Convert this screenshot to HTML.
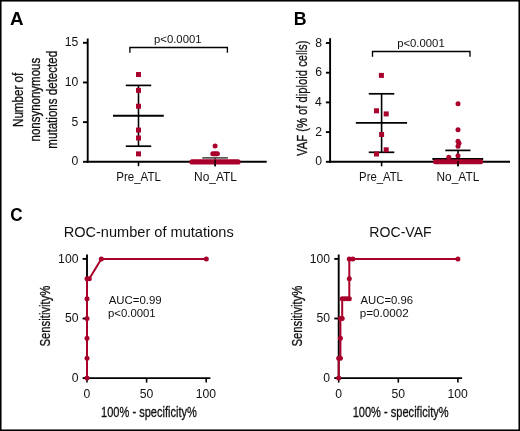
<!DOCTYPE html>
<html><head><meta charset="utf-8"><title>Figure</title>
<style>
html,body{margin:0;padding:0;background:#fff;}
body{width:520px;height:431px;overflow:hidden;font-family:"Liberation Sans",sans-serif;}
svg{display:block;will-change:transform;}
</style></head><body>
<svg width="520" height="431" viewBox="0 0 520 431" font-family="Liberation Sans, sans-serif">
<rect x="0" y="0" width="520" height="431" fill="#fff"/>
<line x1="87.70" y1="38.50" x2="87.70" y2="162.75" stroke="#000" stroke-width="1.9"/>
<line x1="86.75" y1="161.80" x2="266.70" y2="161.80" stroke="#000" stroke-width="1.9"/>
<line x1="83.00" y1="161.80" x2="87.70" y2="161.80" stroke="#000" stroke-width="1.9"/>
<text x="71.56" y="165.40" font-size="12.2" fill="#111">0</text>
<line x1="83.00" y1="122.14" x2="87.70" y2="122.14" stroke="#000" stroke-width="1.9"/>
<text x="71.62" y="125.74" font-size="12.2" fill="#111">5</text>
<line x1="83.00" y1="82.47" x2="87.70" y2="82.47" stroke="#000" stroke-width="1.9"/>
<text x="64.79" y="86.07" font-size="12.2" fill="#111">10</text>
<line x1="83.00" y1="42.81" x2="87.70" y2="42.81" stroke="#000" stroke-width="1.9"/>
<text x="64.85" y="46.41" font-size="12.2" fill="#111">15</text>
<line x1="138.50" y1="161.80" x2="138.50" y2="166.20" stroke="#000" stroke-width="1.6"/>
<line x1="215.10" y1="161.80" x2="215.10" y2="166.20" stroke="#000" stroke-width="1.6"/>
<text x="116.28" y="180.60" font-size="12.2" font-weight="normal" fill="#111" textLength="44.59" lengthAdjust="spacingAndGlyphs">Pre_ATL</text>
<text x="194.05" y="181.00" font-size="12.2" font-weight="normal" fill="#111" textLength="42.91" lengthAdjust="spacingAndGlyphs">No_ATL</text>
<line x1="138.50" y1="85.40" x2="138.50" y2="146.20" stroke="#000" stroke-width="1.6"/>
<line x1="125.80" y1="85.40" x2="151.20" y2="85.40" stroke="#000" stroke-width="1.7"/>
<line x1="125.80" y1="146.20" x2="151.20" y2="146.20" stroke="#000" stroke-width="1.7"/>
<line x1="113.00" y1="115.70" x2="163.80" y2="115.70" stroke="#000" stroke-width="1.9"/>
<rect x="136.00" y="72.04" width="5.0" height="5.0" fill="#a8002b"/>
<rect x="136.00" y="87.90" width="5.0" height="5.0" fill="#a8002b"/>
<rect x="136.00" y="103.77" width="5.0" height="5.0" fill="#a8002b"/>
<rect x="136.00" y="127.57" width="5.0" height="5.0" fill="#a8002b"/>
<rect x="136.00" y="135.50" width="5.0" height="5.0" fill="#a8002b"/>
<rect x="136.00" y="151.37" width="5.0" height="5.0" fill="#a8002b"/>
<line x1="202.30" y1="157.90" x2="227.90" y2="157.90" stroke="#222" stroke-width="1.3"/>
<line x1="215.10" y1="157.90" x2="215.10" y2="161.00" stroke="#222" stroke-width="1.3"/>
<circle cx="215.10" cy="145.93" r="2.5" fill="#a8002b"/>
<line x1="212.8" y1="153.87" x2="217.4" y2="153.87" stroke="#a8002b" stroke-width="5.0" stroke-linecap="round"/>
<line x1="192.0" y1="161.9" x2="238.0" y2="161.9" stroke="#a8002b" stroke-width="5.2" stroke-linecap="round"/>
<line x1="215.10" y1="160.00" x2="215.10" y2="166.20" stroke="#000" stroke-width="1.3"/>
<polyline points="129.9,52.7 129.9,47.5 227.4,47.5 227.4,52.7" fill="none" stroke="#000" stroke-width="1.35"/>
<text x="154.07" y="42.80" font-size="11.0" font-weight="normal" fill="#111" textLength="47.43" lengthAdjust="spacingAndGlyphs">p&lt;0.0001</text>
<text transform="translate(22.9,0) rotate(-90)" x="-127.03" y="0" font-size="14.8" fill="#111" stroke="#111" stroke-width="0.3" textLength="54.31" lengthAdjust="spacingAndGlyphs">Number of</text>
<text transform="translate(40.1,0) rotate(-90)" x="-141.45" y="0" font-size="14.8" fill="#111" stroke="#111" stroke-width="0.3" textLength="83.58" lengthAdjust="spacingAndGlyphs">nonsynonymous</text>
<text transform="translate(56.9,0) rotate(-90)" x="-148.65" y="0" font-size="14.8" fill="#111" stroke="#111" stroke-width="0.3" textLength="97.80" lengthAdjust="spacingAndGlyphs">mutations detected</text>
<text x="9.93" y="24.70" font-size="17.7" font-weight="bold" fill="#000" textLength="13.58" lengthAdjust="spacingAndGlyphs">A</text>
<line x1="330.10" y1="38.20" x2="330.10" y2="162.75" stroke="#000" stroke-width="1.9"/>
<line x1="329.15" y1="161.80" x2="510.00" y2="161.80" stroke="#000" stroke-width="1.9"/>
<line x1="325.90" y1="161.80" x2="330.10" y2="161.80" stroke="#000" stroke-width="1.9"/>
<text x="315.16" y="165.40" font-size="12.2" fill="#111">0</text>
<line x1="325.90" y1="132.10" x2="330.10" y2="132.10" stroke="#000" stroke-width="1.9"/>
<text x="315.34" y="135.70" font-size="12.2" fill="#111">2</text>
<line x1="325.90" y1="102.40" x2="330.10" y2="102.40" stroke="#000" stroke-width="1.9"/>
<text x="315.10" y="106.00" font-size="12.2" fill="#111">4</text>
<line x1="325.90" y1="72.70" x2="330.10" y2="72.70" stroke="#000" stroke-width="1.9"/>
<text x="315.22" y="76.30" font-size="12.2" fill="#111">6</text>
<line x1="325.90" y1="43.00" x2="330.10" y2="43.00" stroke="#000" stroke-width="1.9"/>
<text x="315.22" y="46.60" font-size="12.2" fill="#111">8</text>
<line x1="381.60" y1="161.80" x2="381.60" y2="166.30" stroke="#000" stroke-width="1.6"/>
<line x1="458.00" y1="161.80" x2="458.00" y2="166.30" stroke="#000" stroke-width="1.6"/>
<text x="359.10" y="181.00" font-size="12.2" font-weight="normal" fill="#111" textLength="43.77" lengthAdjust="spacingAndGlyphs">Pre_ATL</text>
<text x="436.55" y="181.00" font-size="12.2" font-weight="normal" fill="#111" textLength="42.70" lengthAdjust="spacingAndGlyphs">No_ATL</text>
<line x1="381.60" y1="93.80" x2="381.60" y2="152.30" stroke="#000" stroke-width="1.6"/>
<line x1="368.80" y1="93.80" x2="394.30" y2="93.80" stroke="#000" stroke-width="1.7"/>
<line x1="368.80" y1="152.30" x2="394.30" y2="152.30" stroke="#000" stroke-width="1.7"/>
<line x1="355.80" y1="122.90" x2="407.10" y2="122.90" stroke="#000" stroke-width="1.9"/>
<rect x="378.90" y="72.90" width="5.0" height="5.0" fill="#a8002b"/>
<rect x="374.00" y="108.30" width="5.0" height="5.0" fill="#a8002b"/>
<rect x="383.70" y="111.40" width="5.0" height="5.0" fill="#a8002b"/>
<rect x="379.10" y="132.00" width="5.0" height="5.0" fill="#a8002b"/>
<rect x="383.70" y="147.30" width="5.0" height="5.0" fill="#a8002b"/>
<rect x="374.00" y="151.50" width="5.0" height="5.0" fill="#a8002b"/>
<line x1="445.30" y1="150.40" x2="470.50" y2="150.40" stroke="#000" stroke-width="1.7"/>
<line x1="458.00" y1="150.40" x2="458.00" y2="159.00" stroke="#000" stroke-width="1.6"/>
<line x1="432.40" y1="159.00" x2="483.20" y2="159.00" stroke="#000" stroke-width="1.9"/>
<circle cx="458.00" cy="103.70" r="2.5" fill="#a8002b"/>
<circle cx="458.00" cy="129.80" r="2.5" fill="#a8002b"/>
<circle cx="458.00" cy="141.30" r="2.5" fill="#a8002b"/>
<circle cx="458.00" cy="146.30" r="2.5" fill="#a8002b"/>
<circle cx="458.00" cy="155.80" r="2.5" fill="#a8002b"/>
<circle cx="459.00" cy="143.20" r="2.5" fill="#a8002b"/>
<circle cx="448.80" cy="157.30" r="2.5" fill="#a8002b"/>
<line x1="435.5" y1="161.8" x2="480.7" y2="161.8" stroke="#a8002b" stroke-width="5.0" stroke-linecap="round"/>
<line x1="458.00" y1="161.00" x2="458.00" y2="166.30" stroke="#000" stroke-width="1.3"/>
<polyline points="372.5,56.7 372.5,51.5 470.0,51.5 470.0,56.7" fill="none" stroke="#000" stroke-width="1.35"/>
<text x="397.16" y="47.30" font-size="11.0" font-weight="normal" fill="#111" textLength="47.53" lengthAdjust="spacingAndGlyphs">p&lt;0.0001</text>
<text transform="translate(306.5,0) rotate(-90)" x="-155.96" y="0" font-size="14.8" fill="#111" stroke="#111" stroke-width="0.3" textLength="115.36" lengthAdjust="spacingAndGlyphs">VAF (% of diploid cells)</text>
<text x="293.85" y="25.30" font-size="17.7" font-weight="bold" fill="#000" textLength="12.79" lengthAdjust="spacingAndGlyphs">B</text>
<text x="10.32" y="221.00" font-size="17.7" font-weight="bold" fill="#000" textLength="12.35" lengthAdjust="spacingAndGlyphs">C</text>
<line x1="87.00" y1="254.50" x2="87.00" y2="379.05" stroke="#000" stroke-width="1.9"/>
<line x1="86.05" y1="378.10" x2="210.40" y2="378.10" stroke="#000" stroke-width="1.9"/>
<line x1="82.60" y1="378.10" x2="87.00" y2="378.10" stroke="#000" stroke-width="1.9"/>
<text x="71.66" y="382.00" font-size="12.2" fill="#111">0</text>
<line x1="87.00" y1="378.10" x2="87.00" y2="382.60" stroke="#000" stroke-width="1.6"/>
<text x="83.58" y="397.70" font-size="12.2" fill="#111">0</text>
<line x1="82.60" y1="318.50" x2="87.00" y2="318.50" stroke="#000" stroke-width="1.9"/>
<text x="64.89" y="322.40" font-size="12.2" fill="#111">50</text>
<line x1="146.60" y1="378.10" x2="146.60" y2="382.60" stroke="#000" stroke-width="1.6"/>
<text x="139.80" y="397.70" font-size="12.2" fill="#111">50</text>
<line x1="82.60" y1="258.90" x2="87.00" y2="258.90" stroke="#000" stroke-width="1.9"/>
<text x="58.11" y="262.80" font-size="12.2" fill="#111">100</text>
<line x1="206.20" y1="378.10" x2="206.20" y2="382.60" stroke="#000" stroke-width="1.6"/>
<text x="195.80" y="397.70" font-size="12.2" fill="#111">100</text>
<polyline points="87.00,378.10 87.00,278.77 89.30,278.77 101.30,258.90 206.30,258.90" fill="none" stroke="#a8002b" stroke-width="2.0" stroke-linejoin="round"/>
<circle cx="87.00" cy="378.10" r="2.5" fill="#a8002b"/>
<circle cx="87.00" cy="358.23" r="2.5" fill="#a8002b"/>
<circle cx="87.00" cy="338.37" r="2.5" fill="#a8002b"/>
<circle cx="87.00" cy="318.50" r="2.5" fill="#a8002b"/>
<circle cx="87.00" cy="298.63" r="2.5" fill="#a8002b"/>
<circle cx="87.00" cy="278.77" r="2.5" fill="#a8002b"/>
<circle cx="89.30" cy="278.77" r="2.5" fill="#a8002b"/>
<circle cx="101.30" cy="258.90" r="2.5" fill="#a8002b"/>
<circle cx="206.30" cy="258.90" r="2.5" fill="#a8002b"/>
<text x="63.63" y="237.40" font-size="15.0" font-weight="normal" fill="#111" textLength="170.09" lengthAdjust="spacingAndGlyphs">ROC-number of mutations</text>
<text x="108.70" y="303.50" font-size="11.3" font-weight="normal" fill="#111" textLength="53.03" lengthAdjust="spacingAndGlyphs">AUC=0.99</text>
<text x="107.96" y="317.00" font-size="11.2" font-weight="normal" fill="#111" textLength="47.74" lengthAdjust="spacingAndGlyphs">p&lt;0.0001</text>
<text transform="translate(50.2,0) rotate(-90)" x="-346.51" y="0" font-size="14.8" fill="#111" stroke="#111" stroke-width="0.3" textLength="60.91" lengthAdjust="spacingAndGlyphs">Sensitivity%</text>
<text x="101.07" y="416.80" font-size="14.8" font-weight="normal" fill="#111" stroke="#111" stroke-width="0.3" textLength="95.82" lengthAdjust="spacingAndGlyphs">100% - specificity%</text>
<line x1="338.70" y1="254.50" x2="338.70" y2="379.05" stroke="#000" stroke-width="1.9"/>
<line x1="337.75" y1="378.10" x2="462.10" y2="378.10" stroke="#000" stroke-width="1.9"/>
<line x1="334.30" y1="378.10" x2="338.70" y2="378.10" stroke="#000" stroke-width="1.9"/>
<text x="323.36" y="382.00" font-size="12.2" fill="#111">0</text>
<line x1="338.70" y1="378.10" x2="338.70" y2="382.60" stroke="#000" stroke-width="1.6"/>
<text x="335.28" y="397.70" font-size="12.2" fill="#111">0</text>
<line x1="334.30" y1="318.50" x2="338.70" y2="318.50" stroke="#000" stroke-width="1.9"/>
<text x="316.58" y="322.40" font-size="12.2" fill="#111">50</text>
<line x1="398.30" y1="378.10" x2="398.30" y2="382.60" stroke="#000" stroke-width="1.6"/>
<text x="391.50" y="397.70" font-size="12.2" fill="#111">50</text>
<line x1="334.30" y1="258.90" x2="338.70" y2="258.90" stroke="#000" stroke-width="1.9"/>
<text x="309.81" y="262.80" font-size="12.2" fill="#111">100</text>
<line x1="457.90" y1="378.10" x2="457.90" y2="382.60" stroke="#000" stroke-width="1.6"/>
<text x="447.50" y="397.70" font-size="12.2" fill="#111">100</text>
<polyline points="338.70,378.10 338.70,358.23 340.40,358.23 340.40,318.50 342.20,318.50 342.20,298.63 349.30,298.63 349.30,258.90 457.90,258.90" fill="none" stroke="#a8002b" stroke-width="2.0" stroke-linejoin="round"/>
<circle cx="338.70" cy="378.10" r="2.5" fill="#a8002b"/>
<circle cx="338.70" cy="358.23" r="2.5" fill="#a8002b"/>
<circle cx="340.40" cy="358.23" r="2.5" fill="#a8002b"/>
<circle cx="340.40" cy="338.37" r="2.5" fill="#a8002b"/>
<circle cx="340.40" cy="318.50" r="2.5" fill="#a8002b"/>
<circle cx="342.20" cy="318.50" r="2.5" fill="#a8002b"/>
<circle cx="342.20" cy="298.63" r="2.5" fill="#a8002b"/>
<circle cx="344.60" cy="298.63" r="2.5" fill="#a8002b"/>
<circle cx="347.00" cy="298.63" r="2.5" fill="#a8002b"/>
<circle cx="349.30" cy="298.63" r="2.5" fill="#a8002b"/>
<circle cx="349.30" cy="278.77" r="2.5" fill="#a8002b"/>
<circle cx="349.30" cy="258.90" r="2.5" fill="#a8002b"/>
<circle cx="352.80" cy="258.90" r="2.5" fill="#a8002b"/>
<circle cx="457.90" cy="258.90" r="2.5" fill="#a8002b"/>
<text x="369.37" y="237.40" font-size="15.0" font-weight="normal" fill="#111" textLength="62.30" lengthAdjust="spacingAndGlyphs">ROC-VAF</text>
<text x="360.50" y="303.50" font-size="11.3" font-weight="normal" fill="#111" textLength="52.57" lengthAdjust="spacingAndGlyphs">AUC=0.96</text>
<text x="359.74" y="317.00" font-size="11.2" font-weight="normal" fill="#111" textLength="48.93" lengthAdjust="spacingAndGlyphs">p=0.0002</text>
<text transform="translate(301.5,0) rotate(-90)" x="-346.51" y="0" font-size="14.8" fill="#111" stroke="#111" stroke-width="0.3" textLength="60.91" lengthAdjust="spacingAndGlyphs">Sensitivity%</text>
<text x="352.67" y="416.80" font-size="14.8" font-weight="normal" fill="#111" stroke="#111" stroke-width="0.3" textLength="95.92" lengthAdjust="spacingAndGlyphs">100% - specificity%</text>
<rect x="0" y="0" width="520" height="431" fill="none" stroke="#000" stroke-width="3.1"/>
</svg>
</body></html>
